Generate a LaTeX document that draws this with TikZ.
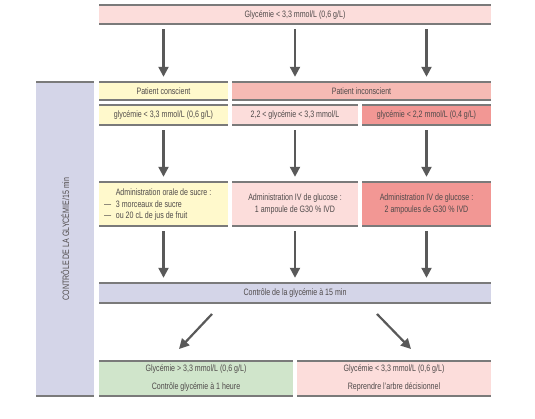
\documentclass[tikz,border=0pt]{standalone}
\usepackage{fontspec}
\setmainfont{Liberation Sans}[FakeStretch=0.76]
\usetikzlibrary{arrows.meta}
\definecolor{txt}{HTML}{4F4A4A}
\definecolor{rule}{HTML}{7A7A7A}
\definecolor{arrc}{HTML}{595959}
\definecolor{pinkL}{HTML}{FCDDDB}
\definecolor{yel}{HTML}{FFF9CC}
\definecolor{pinkM}{HTML}{F6BAB4}
\definecolor{salmon}{HTML}{F29794}
\definecolor{lav}{HTML}{D4D5E8}
\definecolor{grn}{HTML}{D0E5CB}
\tikzset{
  bx/.style={inner sep=0pt, align=center, text=txt, font=\fontsize{9.3}{12}\selectfont,
    path picture={\draw[rule,line width=3pt] (path picture bounding box.north west) -- (path picture bounding box.north east)
      (path picture bounding box.south west) -- (path picture bounding box.south east);}},
  arr/.style={draw=arrc, line width=2.2pt, -{Triangle[length=10pt,width=10pt]}},
  lbl/.style={inner sep=0pt, text=txt, font=\fontsize{9.3}{12}\selectfont}
}
\begin{document}
\begin{tikzpicture}[x=1pt,y=-1pt]
\useasboundingbox (0,0) rectangle (535,419);
% side bar
\node[bx, fill=lav, minimum width=58pt, minimum height=314pt] (side) at (65,239) {};
\node[lbl, rotate=90] (sidet) at (65,239) {CONTRÔLE DE LA GLYCÉMIE/15 min};
% top
\node[bx, fill=pinkL, minimum width=392pt, minimum height=20pt] (top) at (295,15) {Glycémie < 3,3 mmol/L (0,6 g/L)};
% row 1
\node[bx, fill=yel, minimum width=129pt, minimum height=19pt] (pc) at (163.5,91.5) {Patient conscient};
\node[bx, fill=pinkM, minimum width=259pt, minimum height=19pt] (pi) at (361.5,91.5) {Patient inconscient};
% row 2
\node[bx, fill=yel, minimum width=129pt, minimum height=21pt] (g1) at (163.5,115.5) {glycémie < 3,3 mmol/L (0,6 g/L)};
\node[bx, fill=pinkL, minimum width=126pt, minimum height=21pt] (g2) at (295,115.5) {2,2 < glycémie < 3,3 mmol/L};
\node[bx, fill=salmon, minimum width=129pt, minimum height=21pt] (g3) at (426.5,115.5) {glycémie < 2,2 mmol/L (0,4 g/L)};
% row 3
\node[bx, fill=yel, minimum width=129pt, minimum height=45pt] (a1) at (163.5,204.5) {};
\node[lbl] (a1t) at (163.5,192) {Administration orale de sucre :};
\node[lbl, anchor=west] (a1b) at (104,204.5) {—\enspace 3 morceaux de sucre};
\node[lbl, anchor=west] (a1c) at (104,216.5) {—\enspace ou 20 cL de jus de fruit};
\node[bx, fill=pinkL, minimum width=126pt, minimum height=45pt] (a2) at (295,204.5) {Administration IV de glucose :\\1 ampoule de G30 \% IVD};
\node[bx, fill=salmon, minimum width=129pt, minimum height=45pt] (a3) at (426.5,204.5) {Administration IV de glucose :\\2 ampoules de G30 \% IVD};
% control
\node[bx, fill=lav, minimum width=392pt, minimum height=21pt] (ctrl) at (295,293.5) {Contrôle de la glycémie à 15 min};
% bottom
\node[bx, fill=grn, minimum width=194pt, minimum height=36pt, font=\fontsize{9.3}{18}\selectfont] (ok) at (196,378) {Glycémie > 3,3 mmol/L (0,6 g/L)\\Contrôle glycémie à 1 heure};
\node[bx, fill=pinkL, minimum width=194pt, minimum height=36pt, font=\fontsize{9.3}{18}\selectfont] (ko) at (394,378) {Glycémie < 3,3 mmol/L (0,6 g/L)\\Reprendre l’arbre décisionnel};
% arrows
\foreach \s/\d in {g1/pc, g2/pi, g3/pi}{
  \draw[arr] ([yshift=-4pt]top.south -| \s.north) -- ([yshift=5pt]\d.north -| \s.north);
}
\foreach \s/\d in {g1/a1, g2/a2, g3/a3}{
  \draw[arr] ([yshift=-4pt]\s.south) -- ([yshift=5pt]\d.north);
}
\foreach \s in {a1, a2, a3}{
  \draw[arr] ([yshift=-4pt]\s.south) -- ([yshift=5pt]ctrl.north -| \s.south);
}
\coordinate (d1s) at (212,314);
\coordinate (d1e) at (179,349);
\coordinate (d2s) at (377,314);
\coordinate (d2e) at (411,349);
\draw[arr] (d1s) -- (d1e);
\draw[arr] (d2s) -- (d2e);
\end{tikzpicture}
\end{document}
